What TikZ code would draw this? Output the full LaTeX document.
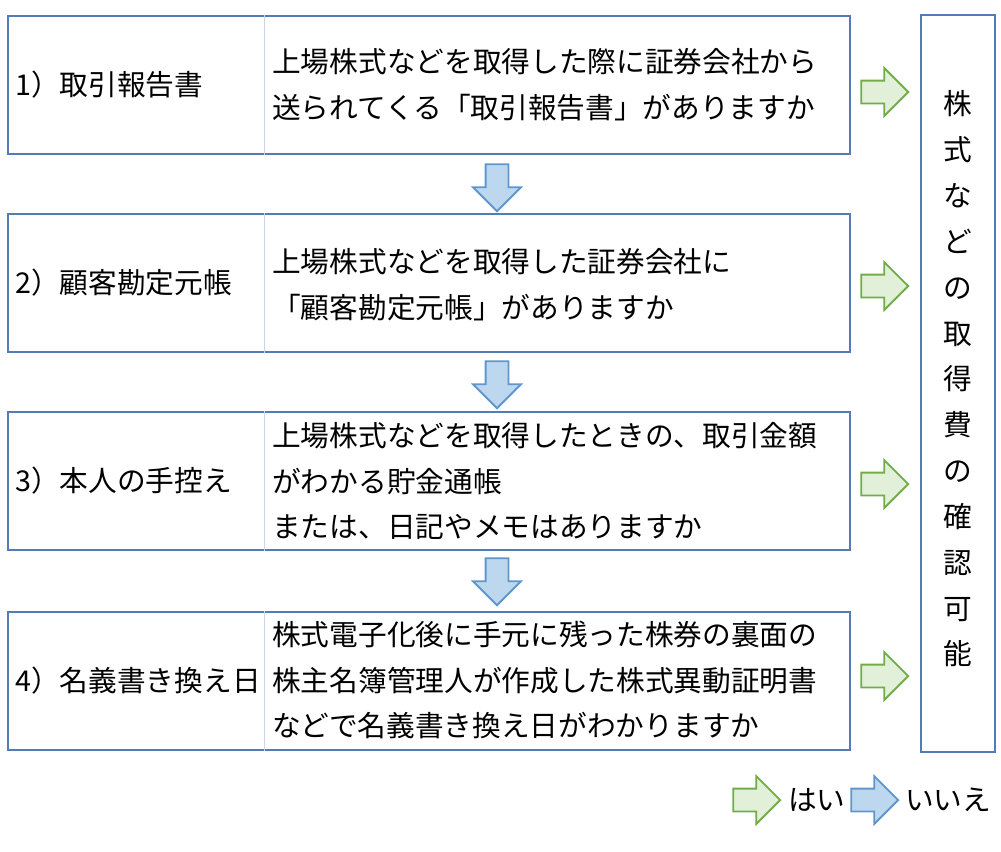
\documentclass[tikz,border=0pt]{standalone}
\usepackage{fontspec}
\setmainfont{Noto Sans CJK JP}
\usepackage{tikz}
\usetikzlibrary{shapes.arrows,positioning,calc}
\definecolor{framecol}{RGB}{84,122,184}
\definecolor{divcol}{RGB}{205,214,230}
\definecolor{yescol}{RGB}{112,173,71}
\definecolor{yesfill}{RGB}{226,240,217}
\definecolor{nocol}{RGB}{96,150,206}
\definecolor{nofill}{RGB}{189,215,238}
\def\px{0.025cm}

\begin{document}
\begin{tikzpicture}[
  x=0.025cm,y=-0.025cm,
  font=\fontsize{20.4}{32.6}\selectfont,
  stepbox/.style={rectangle,draw=framecol,line width=1.3pt,
                  minimum width=842*\px,minimum height=138*\px,inner sep=0pt},
  divider/.style={divcol,line width=0.8pt},
  lbl/.style={anchor=west,inner sep=0pt},
  ques/.style={anchor=west,align=left,inner sep=0pt},
  yesarrow/.style={single arrow,draw=yescol,fill=yesfill,line width=1.3pt,
                   minimum height=47*\px,inner xsep=0pt,inner ysep=10.5*\px,
                   single arrow head extend=12.5*\px},
  noarrow/.style={yesarrow,draw=nocol,fill=nofill},
  resultbox/.style={rectangle,draw=framecol,line width=1.3pt,
                    minimum width=74*\px,minimum height=737*\px,inner sep=0pt}
]
\useasboundingbox (0,0) rectangle (1001,851);

% step boxes
\node[stepbox] (b1) at (429,85)  {};
\node[stepbox] (b2) at (429,283) {};
\node[stepbox] (b3) at (429,481) {};
\node[stepbox] (b4) at (429,681) {};
\foreach \b in {b1,b2,b3,b4}
  \draw[divider] ([xshift=257*\px]\b.north west) -- ([xshift=257*\px]\b.south west);

% labels
\node[lbl] (l1) at (15,85)  {1）取引報告書};
\node[lbl] (l2) at (15,283) {2）顧客勘定元帳};
\node[lbl] (l3) at (15,481) {3）本人の手控え};
\node[lbl] (l4) at (15,681) {4）名義書き換え日};

% questions
\node[ques] (q1) at (272,85)  {上場株式などを取得した際に証券会社から\\送られてくる「取引報告書」がありますか};
\node[ques] (q2) at (272,285) {上場株式などを取得した証券会社に\\「顧客勘定元帳」がありますか};
\node[ques] (q3) at (272,481) {上場株式などを取得したときの、取引金額\\がわかる貯金通帳\\または、日記やメモはありますか};
\node[ques] (q4) at (272,680) {株式電子化後に手元に残った株券の裏面の\\株主名簿管理人が作成した株式異動証明書\\などで名義書き換え日がわかりますか};

% result
\node[resultbox] (res) at (958,383.5) {};
\node[align=center,inner sep=0pt] (restxt) at (958,379)
  {株\\式\\な\\ど\\の\\取\\得\\費\\の\\確\\認\\可\\能};

% no arrows
\node[noarrow,rotate=-90] (n1) at (497,182) {};
\node[noarrow,rotate=-90] (n2) at (497,379) {};
\node[noarrow,rotate=-90] (n3) at (497,576) {};

% yes arrows
\node[yesarrow] (y1) at (879,92)  {};
\node[yesarrow] (y2) at (879,286) {};
\node[yesarrow] (y3) at (879,484) {};
\node[yesarrow] (y4) at (879,676) {};

% legend
\node[yesarrow] (ly) at (751,800) {};
\node[lbl] (lyt) at (788,800) {はい};
\node[noarrow] (ln) at (869,800) {};
\node[lbl] (lnt) at (905,800) {いいえ};
\end{tikzpicture}
\end{document}
